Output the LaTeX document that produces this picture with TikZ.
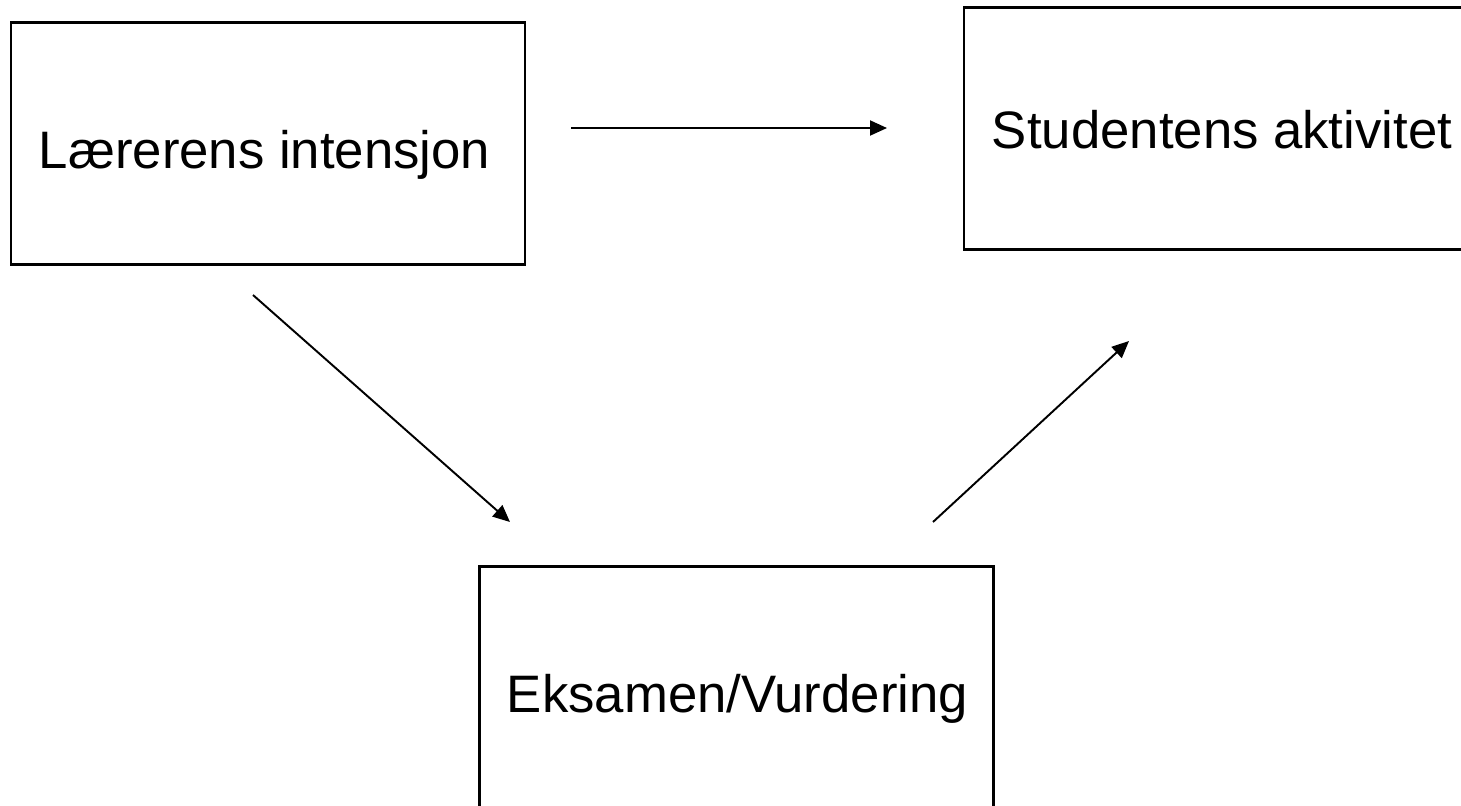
\documentclass[tikz,border=0pt]{standalone}
\usepackage{fontspec}
\setmainfont{Liberation Sans}
\usetikzlibrary{arrows.meta}

\begin{document}
\begin{tikzpicture}
            [->, >={Triangle[length=0.34cm,width=0.3cm]}, line width=1.1pt,
             box/.style={shape=rectangle, draw=black, line width=1.3pt, minimum width=10.28cm, minimum height=4.84cm, inner sep=0pt},
             lbl/.style={anchor=base west, inner sep=0pt, font=\fontsize{30}{36}\selectfont}]
            \clip (0, 0) rectangle (29.22, -16.1);

            \node[box] (laerer) at (5.36, -2.87) {};
            \node[box] (student) at (24.42, -2.57) {};
            \node[box] (eksamen) at (14.73, -13.75) {};

            \node[lbl] (laerertxt) at (0.76, -3.36) {Lærerens intensjon};
            \node[lbl] (studenttxt) at (19.82, -2.96) {Studentens aktivitet};
            \node[lbl] (eksamentxt) at (10.12, -14.24) {Eksamen/Vurdering};

            \coordinate (l2s) at (11.42, -2.56);
            \coordinate (s2l) at (17.74, -2.56);
            \coordinate (l2e) at (5.06, -5.90);
            \coordinate (e2l) at (10.20, -10.44);
            \coordinate (e2s) at (18.66, -10.44);
            \coordinate (s2e) at (22.58, -6.82);

            \path [->] (l2s) edge (s2l);
            \path [->] (l2e) edge (e2l);
            \path [->] (e2s) edge (s2e);
        \end{tikzpicture}
\end{document}
